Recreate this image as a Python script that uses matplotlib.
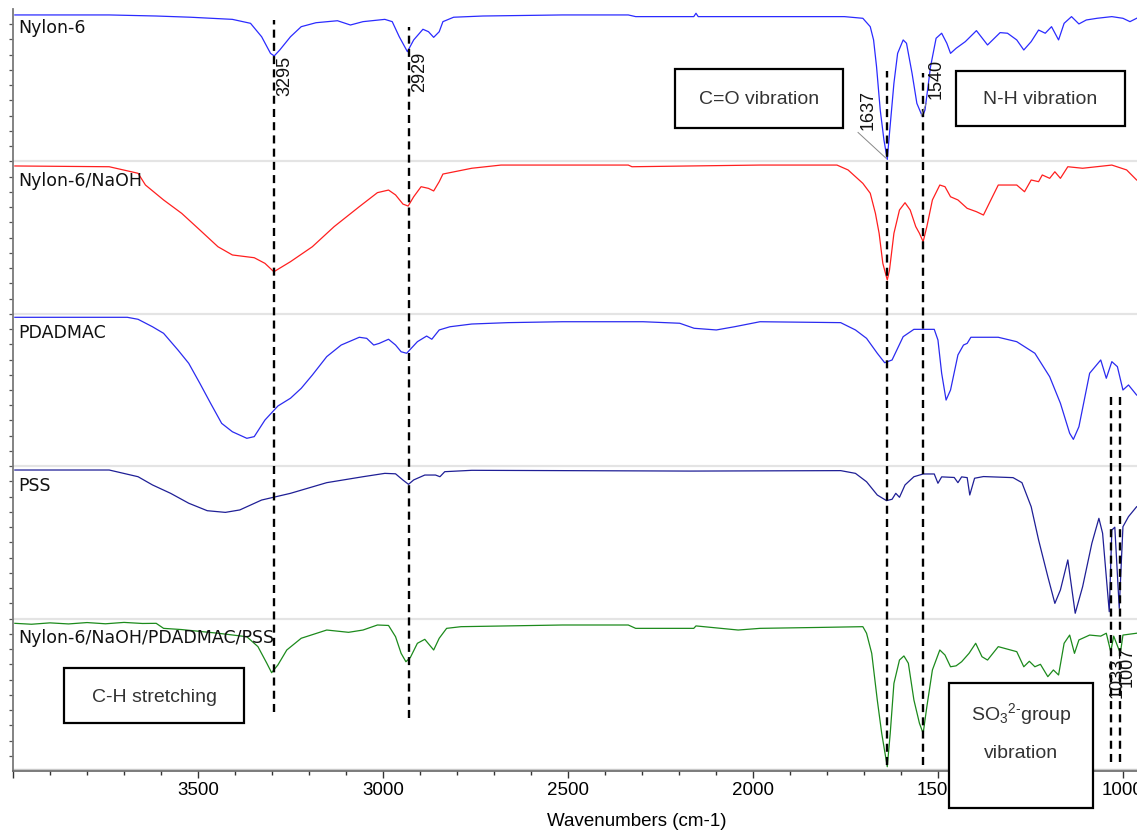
import numpy as np
import matplotlib
matplotlib.use("Agg")
import matplotlib.pyplot as plt
from matplotlib.patches import Rectangle
from matplotlib.ticker import MultipleLocator, FixedLocator, FuncFormatter

plt.rcParams['font.family'] = ['Liberation Sans', 'DejaVu Sans']
plt.rcParams['mathtext.fontset'] = 'custom'
plt.rcParams['mathtext.rm'] = 'Liberation Sans'
plt.rcParams['mathtext.it'] = 'Liberation Sans'

# FTIR spectra, transmittance in % of each panel height
nylon_wn = [3995, 3740, 3613, 3520, 3407, 3358, 3328, 3304, 3294, 3279, 3250, 3221, 3181, 3123,
            3088, 3054, 2995, 2975, 2956, 2934, 2917, 2892, 2877, 2863, 2848, 2838, 2809, 2730,
            2515, 2337, 2317, 2160, 2154, 2148, 1981, 1753, 1703, 1683, 1674, 1666, 1656, 1646,
            1637, 1631, 1619, 1609, 1594, 1585, 1570, 1557, 1542, 1535, 1520, 1505, 1490, 1476,
            1466, 1451, 1426, 1396, 1366, 1332, 1312, 1287, 1268, 1248, 1228, 1210, 1193, 1174,
            1159, 1139, 1119, 1099, 1070, 1030, 1000, 981, 963]
nylon_t = [96.1, 96.1, 95.4, 94.6, 93.2, 90.6, 81.8, 70.9, 69.2, 73.1, 81.8, 88.4, 91.0, 92.3,
           89.5, 91.7, 93.2, 91.7, 81.8, 72.0, 79.7, 86.7, 85.1, 81.4, 85.1, 91.7, 94.6, 95.4,
           96.1, 96.1, 95.0, 95.0, 97.2, 95.0, 95.0, 95.0, 93.9, 88.4, 79.7, 62.2, 33.7, 14.1,
           1.3, 18.4, 51.3, 70.9, 79.7, 77.5, 57.8, 38.1, 29.4, 33.7, 62.2, 80.8, 84.1, 77.5,
           70.9, 74.2, 78.6, 85.8, 76.4, 84.5, 84.1, 79.7, 73.1, 78.6, 86.2, 84.1, 88.4, 79.7,
           90.6, 95.0, 90.2, 92.8, 93.9, 95.0, 93.9, 91.7, 93.9]

naoh_wn = [3995, 3740, 3662, 3642, 3593, 3544, 3495, 3446, 3407, 3348, 3319, 3295, 3284, 3250,
           3191, 3132, 3064, 3015, 2985, 2966, 2946, 2932, 2917, 2897, 2877, 2863, 2848, 2838,
           2760, 2681, 2337, 2327, 1981, 1773, 1743, 1723, 1703, 1683, 1669, 1659, 1649, 1637,
           1631, 1619, 1604, 1589, 1575, 1560, 1550, 1540, 1530, 1515, 1495, 1481, 1466, 1446,
           1421, 1396, 1377, 1357, 1337, 1287, 1266, 1248, 1228, 1218, 1198, 1184, 1169, 1149,
           1109, 1030, 990, 963]
naoh_t = [97.0, 96.5, 92.2, 84.5, 74.7, 65.9, 55.0, 44.0, 38.6, 36.8, 33.1, 27.6, 29.2, 34.2,
          44.0, 57.2, 70.3, 79.5, 81.2, 78.0, 72.0, 70.7, 76.8, 83.4, 82.3, 80.6, 86.7, 91.7,
          95.5, 97.6, 97.6, 96.5, 97.6, 97.6, 94.4, 90.0, 85.6, 79.1, 65.9, 52.8, 33.1, 22.2,
          28.7, 52.8, 68.1, 72.9, 68.1, 57.2, 52.8, 47.3, 57.2, 74.7, 84.5, 83.4, 76.8, 74.7,
          69.2, 67.0, 64.8, 74.7, 84.5, 84.5, 80.1, 87.8, 86.7, 91.1, 88.9, 93.2, 88.9, 96.5,
          95.5, 97.6, 94.4, 87.8]

pdadmac_wn = [3995, 3691, 3662, 3623, 3593, 3554, 3525, 3495, 3466, 3436, 3407, 3368, 3348, 3319,
              3284, 3250, 3221, 3191, 3152, 3113, 3064, 3044, 3025, 3010, 2985, 2966, 2951, 2936,
              2907, 2882, 2868, 2848, 2819, 2760, 2662, 2515, 2297, 2198, 2159, 2099, 2050, 1981,
              1763, 1723, 1693, 1664, 1644, 1624, 1594, 1565, 1510, 1500, 1490, 1478, 1466, 1446,
              1431, 1421, 1411, 1337, 1287, 1238, 1198, 1169, 1144, 1134, 1119, 1090, 1060, 1045,
              1030, 1015, 1000, 985, 963]
pdadmac_t = [97.7, 97.7, 96.4, 91.5, 87.2, 76.2, 67.5, 54.4, 41.3, 28.1, 22.6, 18.3, 19.4, 30.3,
             39.5, 44.6, 51.1, 59.8, 71.9, 79.5, 84.6, 83.9, 79.5, 80.6, 83.3, 79.5, 75.1, 74.1,
             81.7, 85.4, 83.3, 89.4, 91.5, 93.3, 94.2, 94.8, 94.8, 93.8, 90.5, 89.4, 91.5, 94.8,
             94.2, 89.4, 83.9, 74.1, 67.9, 69.7, 85.0, 89.8, 89.8, 82.8, 61.0, 43.4, 50.0, 73.0,
             79.5, 80.6, 84.6, 84.6, 81.7, 74.1, 58.7, 41.3, 21.6, 17.6, 25.9, 61.0, 69.7, 57.7,
             68.6, 65.3, 50.0, 53.3, 46.7]

pss_wn = [3995, 3740, 3662, 3623, 3574, 3525, 3475, 3426, 3387, 3328, 3250, 3152, 3054, 2995,
          2966, 2946, 2931, 2917, 2887, 2858, 2846, 2833, 2760, 2515, 2169, 1763, 1723, 1693,
          1664, 1639, 1624, 1614, 1604, 1589, 1565, 1540, 1510, 1500, 1490, 1456, 1446, 1436,
          1421, 1414, 1401, 1377, 1297, 1273, 1248, 1228, 1203, 1184, 1169, 1149, 1129, 1109,
          1084, 1065, 1055, 1037, 1030, 1022, 1010, 1000, 985, 963]
pss_t = [97.5, 97.5, 93.1, 87.7, 82.2, 75.7, 70.8, 69.7, 71.3, 77.8, 82.2, 89.2, 93.1, 95.3,
         95.0, 90.9, 88.1, 91.0, 94.2, 94.2, 93.1, 96.4, 97.3, 97.1, 96.8, 97.1, 95.3, 89.8,
         81.1, 77.4, 78.3, 82.2, 79.6, 87.7, 93.1, 94.9, 94.9, 88.8, 93.0, 92.6, 89.2, 93.0,
         92.5, 81.1, 92.1, 93.2, 92.5, 89.2, 73.4, 51.6, 27.5, 10.0, 18.8, 38.5, 3.5, 20.9,
         49.4, 65.8, 56.0, 4.5, 58.1, 60.0, 6.8, 60.3, 66.9, 73.4]

lbl_wn = [3995, 3950, 3900, 3850, 3800, 3750, 3700, 3650, 3613, 3593, 3544, 3446, 3368, 3338,
          3314, 3301, 3284, 3260, 3221, 3152, 3093, 3054, 3015, 2985, 2966, 2951, 2938, 2926,
          2907, 2887, 2863, 2848, 2828, 2789, 2515, 2337, 2317, 2160, 2154, 2040, 1981, 1822,
          1703, 1693, 1679, 1664, 1652, 1637, 1629, 1619, 1604, 1592, 1580, 1565, 1550, 1540,
          1530, 1515, 1495, 1481, 1466, 1451, 1436, 1416, 1398, 1381, 1366, 1337, 1287, 1268,
          1253, 1238, 1223, 1203, 1188, 1174, 1159, 1144, 1131, 1119, 1090, 1060, 1045, 1033,
          1025, 1007, 1000, 963]
lbl_t = [96.9, 96.3, 97.2, 96.5, 97.4, 96.6, 97.5, 96.8, 96.9, 93.6, 92.8, 90.4, 88.1, 81.6,
         70.7, 64.5, 69.6, 79.4, 87.1, 92.5, 91.0, 92.5, 95.8, 95.5, 88.1, 77.2, 71.7, 74.5,
         83.8, 86.4, 79.4, 87.1, 93.6, 94.7, 95.8, 95.8, 93.6, 93.6, 95.2, 92.5, 93.6, 94.2,
         94.7, 90.4, 77.2, 46.6, 24.7, 2.8, 24.7, 57.5, 72.8, 75.5, 70.7, 46.6, 31.3, 24.7,
         42.2, 66.3, 79.4, 76.1, 68.4, 69.0, 71.7, 77.2, 83.8, 75.0, 72.8, 81.6, 78.3, 68.4,
         72.0, 68.4, 70.0, 61.9, 66.3, 63.0, 83.8, 89.2, 77.2, 86.0, 89.2, 88.5, 90.4, 78.3,
         88.5, 77.2, 89.2, 90.4]

names = ['Nylon-6', 'Nylon-6/NaOH', 'PDADMAC', 'PSS', 'Nylon-6/NaOH/PDADMAC/PSS']
colors = ['#2b2bff', '#ff1f1f', '#2b2bf0', '#1f1f96', '#1c8a1c']
series = [(nylon_wn, nylon_t), (naoh_wn, naoh_t), (pdadmac_wn, pdadmac_t),
          (pss_wn, pss_t), (lbl_wn, lbl_t)]

peaks = [3295, 2929, 1637, 1540, 1033, 1007]
peak_spans = [(0.39, 4.93), (0.35, 4.88), (0.04, 4.59), (0.04, 4.58), (0.06, 2.47), (0.06, 2.47)]
peak_text_pos = [(3265, 4.56), (2900, 4.59), (1689, 4.34), (1505, 4.54), (1016, 0.61), (989, 0.68)]

W, H = 1137, 832


def fx(px):
    return px / W


def fy(py):
    return 1 - py / H


fig = plt.figure(figsize=(W / 100, H / 100), dpi=100)
ax = fig.add_axes([fx(13), fy(771), 1 - fx(13), fy(9) - fy(771)])
ax.set_xlim(4000, 962)
ax.set_ylim(0, 5)

# panel separators
for k in range(1, 5):
    ax.axhline(k, color='#e4e4e4', lw=1.6, zorder=1)
ax.axhline(0.012, color='#c8c8c8', lw=1.0, zorder=1)

for k, ((wn, t), c, name) in enumerate(zip(series, colors, names)):
    off = 4 - k
    ax.plot(wn, off + np.array(t) / 100.0, color=c, lw=0.9, zorder=3)
    ax.text(3986, off + 0.84, name, family='DejaVu Sans', fontsize=12.5,
            ha='left', va='baseline', color='#111111', zorder=4)

# peak markers
for wn, (y0, y1), (tx, ty) in zip(peaks, peak_spans, peak_text_pos):
    ax.plot([wn, wn], [y0, y1], color='black', lw=1.7, ls=(0, (3.4, 2.2)), zorder=4)
    ax.text(tx, ty, str(wn), rotation=90, ha='center', va='center', fontsize=13,
            color='#111111', zorder=5)

# leader lines to the labelled minima
ax.plot([1716, 1640], [4.19, 4.02], color='#888888', lw=0.7, zorder=4)
ax.plot([1532, 1545], [4.38, 4.30], color='#888888', lw=0.7, zorder=4)

# axes styling
for side in ['top', 'right']:
    ax.spines[side].set_visible(False)
ax.spines['left'].set_color('#7a7a7a')
ax.spines['left'].set_linewidth(1.3)
ax.spines['bottom'].set_color('#666666')
ax.spines['bottom'].set_linewidth(1.2)

ax.xaxis.set_major_locator(FixedLocator([4000, 3500, 3000, 2500, 2000, 1500, 1000]))
ax.xaxis.set_minor_locator(MultipleLocator(100))
ax.xaxis.set_major_formatter(FuncFormatter(lambda v, p: '' if v >= 4000 else '%d' % v))
ax.tick_params(axis='x', which='major', length=5, width=1, color='#333333',
               labelsize=13.5, pad=3)
ax.tick_params(axis='x', which='minor', length=3, width=1, color='#333333')
ax.yaxis.set_major_locator(FixedLocator(np.arange(0.1, 5.0, 0.1)))
ax.yaxis.set_major_formatter(FuncFormatter(lambda v, p: ''))
ax.tick_params(axis='y', which='major', length=3, width=0.9, color='#555555')

fig.text(fx(637), fy(822), 'Wavenumbers (cm-1)', ha='center', va='center', fontsize=13.5)

# annotation boxes
boxes = [
    ((675, 69, 843, 128), ['C=O vibration'], [99]),
    ((956, 71, 1125, 126), ['N-H vibration'], [100]),
    ((64, 668, 244, 723), ['C-H stretching'], [697]),
    ((949, 683, 1093, 808), ['SO$_3$$^{2\u2010}$group', 'vibration'], [714, 753]),
]
for (x0, y0, x1, y1), lines, ys in boxes:
    fig.add_artist(Rectangle((fx(x0), fy(y1)), fx(x1) - fx(x0), fy(y0) - fy(y1),
                             transform=fig.transFigure, facecolor='white',
                             edgecolor='black', lw=1.6, zorder=5))
    for s, yy in zip(lines, ys):
        fig.text(fx((x0 + x1) / 2), fy(yy), s, ha='center', va='center',
                 fontsize=14, color='#333333', zorder=6)

fig.savefig('out.png', dpi=100)
